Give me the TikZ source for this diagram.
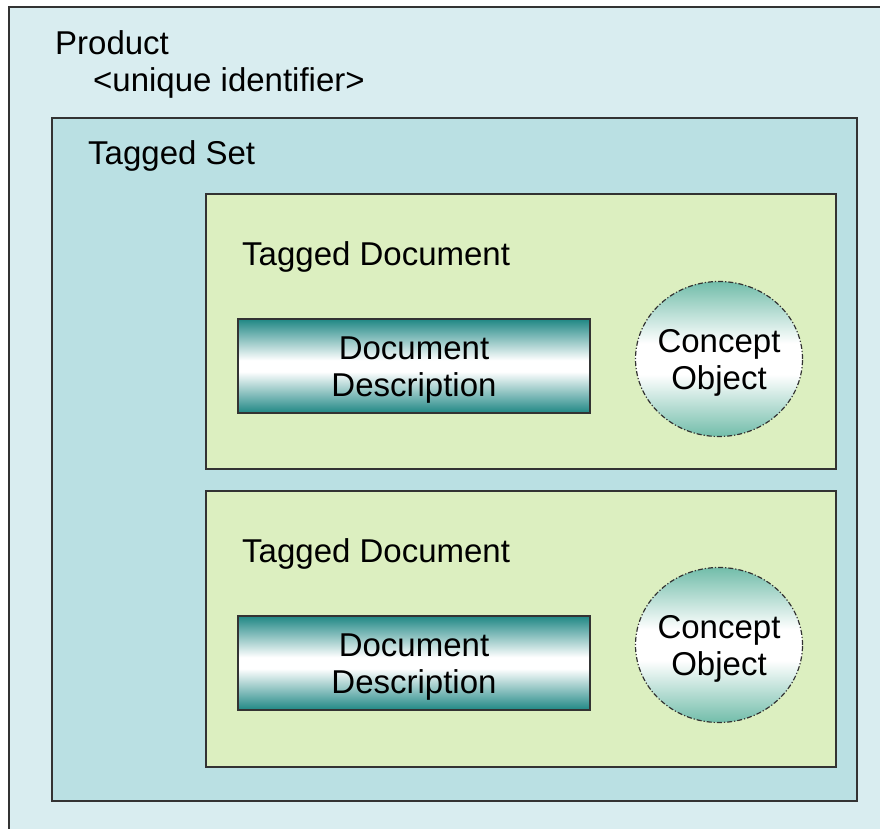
\documentclass[tikz,border=0pt]{standalone}
\usepackage{fontspec}
\setmainfont{Liberation Sans}
\usetikzlibrary{shapes.geometric}
\definecolor{outerc}{HTML}{D9EDF0}
\definecolor{setc}{HTML}{BAE0E3}
\definecolor{docc}{HTML}{DCEFC0}
\definecolor{tealc}{HTML}{1F8784}
\definecolor{ctealc}{HTML}{72BDAA}
\definecolor{edgec}{HTML}{333333}
\pgfdeclareverticalshading{tealmid}{100bp}{color(0bp)=(tealc); color(25bp)=(tealc); color(47bp)=(white); color(53bp)=(white); color(75bp)=(tealc); color(100bp)=(tealc)}
\pgfdeclareverticalshading{circmid}{100bp}{color(0bp)=(ctealc); color(25bp)=(ctealc); color(45bp)=(white); color(55bp)=(white); color(75bp)=(ctealc); color(100bp)=(ctealc)}
\tikzset{
  boxstyle/.style={draw=edgec, line width=1.6pt, anchor=north west, inner sep=0pt, rectangle},
  lbl/.style={anchor=base west, inner sep=0pt, font=\fontsize{33}{37.5}\selectfont},
  ctext/.style={inner sep=0pt, align=center, font=\fontsize{33}{37.5}\selectfont},
  descbox/.style={draw=edgec, line width=1.6pt, shading=tealmid, inner sep=0pt, rectangle, minimum width=352pt, minimum height=94pt},
  conceptobj/.style={draw=edgec, line width=1.2pt, dash pattern=on 5pt off 2pt on 1.2pt off 2pt, shading=circmid, ellipse, inner sep=0pt, minimum width=167pt, minimum height=155pt}
}
\begin{document}
\begin{tikzpicture}[x=1pt,y=-1pt]
\useasboundingbox (0,0) rectangle (880,829);
\clip (0,0) rectangle (880,829);
\fill[white] (0,0) rectangle (880,829);
\node[boxstyle, fill=outerc, minimum width=900pt, minimum height=850pt] (product) at (8,6) {};
\node[lbl] (productlbl) at (55,55) {Product};
\node[lbl] (uid) at (93,92) {<unique identifier>};
\node[boxstyle, fill=setc, line width=1.8pt, minimum width=805pt, minimum height=683pt] (tset) at (51,117) {};
\node[lbl] (tsetlbl) at (88,165) {Tagged Set};
\node[boxstyle, fill=docc, minimum width=630pt, minimum height=275pt] (tdoc1) at (205,193) {};
\node[lbl] (tdoc1lbl) at (242,265) {Tagged Document};
\node[descbox] (desc1) at (414,366) {};
\node[ctext] (desc1txt) at (414,370) {Document\\Description};
\node[conceptobj] (co1) at (719,359) {};
\node[ctext] (co1txt) at (719,363) {Concept\\Object};
\node[boxstyle, fill=docc, minimum width=630pt, minimum height=276pt] (tdoc2) at (205,490) {};
\node[lbl] (tdoc2lbl) at (242,562) {Tagged Document};
\node[descbox] (desc2) at (414,663) {};
\node[ctext] (desc2txt) at (414,667) {Document\\Description};
\node[conceptobj] (co2) at (719,645) {};
\node[ctext] (co2txt) at (719,649) {Concept\\Object};
\end{tikzpicture}
\end{document}
